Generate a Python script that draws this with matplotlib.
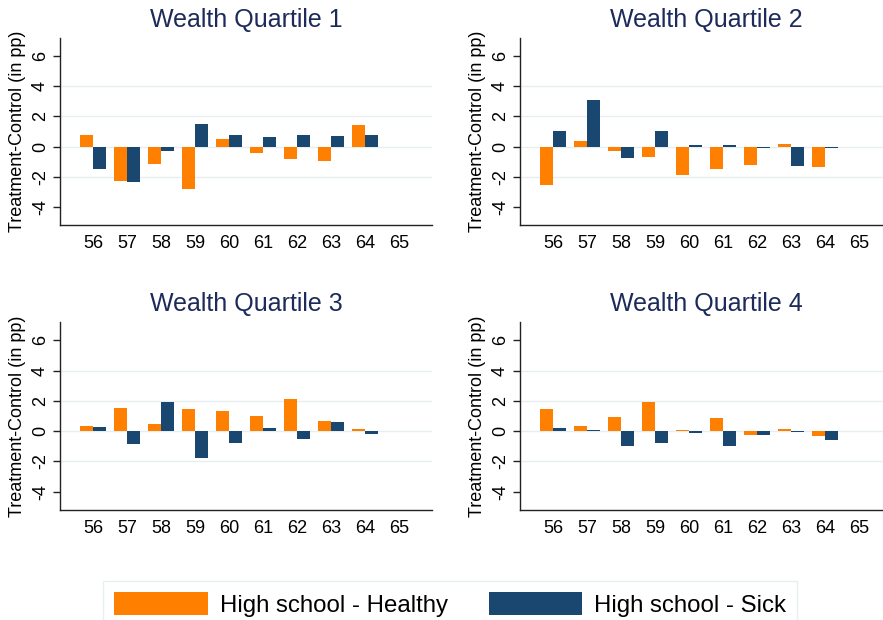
import matplotlib
matplotlib.use("Agg")
import matplotlib.pyplot as plt
import numpy as np

plt.rcParams['font.family'] = ['Liberation Sans', 'DejaVu Sans']

ages = [56, 57, 58, 59, 60, 61, 62, 63, 64]
xtick_labels = [56, 57, 58, 59, 60, 61, 62, 63, 64, 65]
titles = ["Wealth Quartile 1", "Wealth Quartile 2", "Wealth Quartile 3", "Wealth Quartile 4"]
series_names = ["High school - Healthy", "High school - Sick"]

q1_healthy = [0.78, -2.29, -1.13, -2.80, 0.51, -0.40, -0.80, -0.93, 1.44]
q1_sick    = [-1.47, -2.33, -0.27, 1.51, 0.78, 0.64, 0.78, 0.71, 0.78]
q2_healthy = [-2.53, 0.40, -0.27, -0.67, -1.87, -1.47, -1.20, 0.18, -1.33]
q2_sick    = [1.04, 3.11, -0.73, 1.04, 0.11, 0.11, -0.08, -1.27, -0.08]
q3_healthy = [0.33, 1.52, 0.46, 1.45, 1.32, 0.99, 2.11, 0.66, 0.13]
q3_sick    = [0.26, -0.84, 1.91, -1.76, -0.77, 0.20, -0.51, 0.59, -0.18]
q4_healthy = [1.45, 0.33, 0.92, 1.91, 0.07, 0.86, -0.24, 0.13, -0.31]
q4_sick    = [0.20, 0.07, -0.97, -0.77, -0.13, -0.97, -0.24, -0.07, -0.57]

healthy = [q1_healthy, q2_healthy, q3_healthy, q4_healthy]
sick = [q1_sick, q2_sick, q3_sick, q4_sick]

ORANGE = "#FF8000"
NAVY = "#1A476F"
TITLE_C = "#1C2B5A"
GRID_C = "#E6EEF0"

W, H = 883, 620
fig = plt.figure(figsize=(W / 100, H / 100), dpi=100)

# axes rectangles in pixels: left, top, right, bottom
rects = [(60, 38, 432, 225), (520, 38, 892, 225),
         (60, 322, 432, 510), (520, 322, 892, 510)]

bw = 0.37
handles = None
for i, (l, t, r, b) in enumerate(rects):
    ax = fig.add_axes([l / W, 1 - b / H, (r - l) / W, (b - t) / H])
    x = np.array(ages)
    for g in [-2, 0, 2, 4]:
        ax.axhline(g, color=GRID_C, lw=1.0, zorder=0)
    h1 = ax.bar(x - bw / 2, healthy[i], width=bw, color=ORANGE, zorder=2, linewidth=0)
    h2 = ax.bar(x + bw / 2, sick[i], width=bw, color=NAVY, zorder=2, linewidth=0)
    if handles is None:
        handles = [h1, h2]
    ax.set_xlim(55.03, 65.97)
    ax.set_ylim(-5.2, 7.2)
    ax.set_xticks(xtick_labels)
    ax.set_xticklabels([str(v) for v in xtick_labels], fontsize=13)
    ax.set_yticks([-4, -2, 0, 2, 4, 6])
    ax.set_yticklabels(["-4", "-2", "0", "2", "4", "6"], fontsize=13,
                       rotation=90, va='center')
    ax.tick_params(axis='x', length=0, pad=7)
    ax.tick_params(axis='y', length=5, width=1, pad=3, color='#222222')
    for s in ['top', 'right']:
        ax.spines[s].set_visible(False)
    for s in ['left', 'bottom']:
        ax.spines[s].set_color('#222222')
        ax.spines[s].set_linewidth(1.0)
    ax.set_ylabel("Treatment-Control (in pp)", fontsize=13, labelpad=4)
    ax.set_title(titles[i], fontsize=18, color=TITLE_C, pad=8)
    ax.set_facecolor('white')

leg = fig.legend(handles, series_names, loc='lower center',
                 bbox_to_anchor=(0.51, -0.012), ncol=2, fontsize=17.3,
                 frameon=True, fancybox=False, edgecolor='#E3EBEE',
                 handlelength=3.9, handleheight=1.1, handletextpad=0.5,
                 columnspacing=1.7, borderpad=0.45, borderaxespad=0.0)
leg.get_frame().set_linewidth(1.0)

fig.savefig("out.png", dpi=100, facecolor='white')
